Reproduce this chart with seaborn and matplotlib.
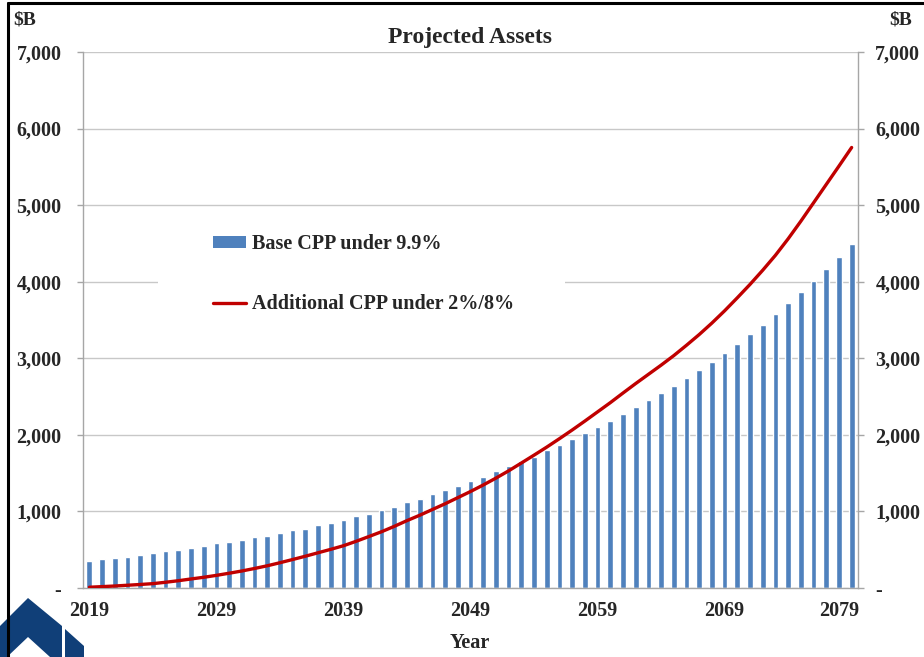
import numpy as np
import pandas as pd
import matplotlib
matplotlib.use('Agg')
import matplotlib.pyplot as plt
import matplotlib.transforms as mtransforms
import seaborn as sns
from matplotlib.patches import Patch, Rectangle, Polygon
from matplotlib.lines import Line2D

# data ($B)
years = list(range(2019, 2080))
base_cpp = [352, 374, 394, 408, 431, 453, 478, 500, 523, 549,
            582, 604, 628, 660, 684, 720, 752, 776, 820, 855,
            888, 938, 970, 1018, 1062, 1122, 1167, 1223, 1279, 1336,
            1397, 1450, 1523, 1589, 1656, 1716, 1797, 1864, 1945, 2027,
            2106, 2185, 2272, 2359, 2450, 2546, 2634, 2738, 2842, 2954,
            3068, 3185, 3312, 3437, 3577, 3716, 3864, 4012, 4161, 4321,
            4495]
additional_cpp = [10, 18, 26, 36, 46, 57, 75, 95, 118, 140,
                  165, 193, 222, 255, 290, 330, 372, 415, 460, 505,
                  552, 610, 672, 735, 805, 880, 950, 1025, 1100, 1180,
                  1260, 1345, 1435, 1530, 1632, 1735, 1840, 1950, 2063, 2180,
                  2300, 2420, 2546, 2670, 2790, 2910, 3035, 3170, 3310, 3460,
                  3620, 3790, 3965, 4150, 4345, 4560, 4790, 5030, 5270, 5510,
                  5753]

y_ticks = [0, 1000, 2000, 3000, 4000, 5000, 6000, 7000]
y_tick_labels = ['-', '1,000', '2,000', '3,000', '4,000', '5,000', '6,000', '7,000']
x_label_years = [2019, 2029, 2039, 2049, 2059, 2069, 2079]
series_names = ['Base CPP under 9.9%', 'Additional CPP under 2%/8%']

BAR_COLOR = '#4F81BD'
LINE_COLOR = '#C00000'
GRID_COLOR = '#C8C8C8'
AXIS_COLOR = '#A6A6A6'

W, H = 924, 657


def fx(px):
    return px / W


def fy(py):
    return 1 - py / H


sns.set_style('white')
plt.rcParams['font.family'] = ['Liberation Serif', 'DejaVu Serif']
plt.rcParams['font.weight'] = 'bold'

df = pd.DataFrame({'year': years, 'base': base_cpp, 'additional': additional_cpp})

fig = plt.figure(figsize=(W / 100, H / 100), dpi=100)
ax = fig.add_axes([fx(83), fy(588), fx(858) - fx(83), fy(52) - fy(588)])

sns.barplot(data=df, x='year', y='base', native_scale=True, width=0.45,
            color=BAR_COLOR, saturation=1, errorbar=None, ax=ax, zorder=2)
sns.lineplot(data=df, x='year', y='additional', color=LINE_COLOR, lw=2.4,
             ax=ax, zorder=3)

ax.set_xlim(2018.5, 2079.5)
ax.set_ylim(0, 7000)
ax.set_axisbelow(True)
ax.xaxis.grid(False)
ax.yaxis.grid(True, color=GRID_COLOR, lw=1)

# white box behind the legend hides the gridline
ax.add_patch(Rectangle((fx(158), fy(335)), fx(565) - fx(158), fy(215) - fy(335),
                       transform=fig.transFigure, facecolor='white',
                       edgecolor='none', zorder=1))

ax.set_yticks(y_ticks)
ax.set_yticklabels(y_tick_labels)
ax.set_xticks(x_label_years)
ax.set_xticklabels([str(y) for y in x_label_years])
ax.set_xticks(np.arange(2018.5, 2079, 5), minor=True)
ax.tick_params(axis='x', which='major', length=0, pad=9, labelsize=14.5)
ax.tick_params(axis='x', which='minor', length=5, width=1, color=AXIS_COLOR,
               direction='out')
ax.tick_params(axis='y', length=4.5, width=1, color=AXIS_COLOR, pad=11,
               labelsize=14.5, direction='out')
ax.set_xlabel('')
ax.set_ylabel('')

# last year label sits a little left, as in the original
last = ax.get_xticklabels()[-1]
last.set_transform(last.get_transform() +
                   mtransforms.ScaledTranslation(-12 / 100, 0, fig.dpi_scale_trans))

for side in ['top', 'right']:
    ax.spines[side].set_visible(False)
for side in ['left', 'bottom']:
    ax.spines[side].set_color(AXIS_COLOR)
    ax.spines[side].set_linewidth(1)

ax2 = ax.twinx()
ax2.set_ylim(0, 7000)
ax2.set_yticks(y_ticks)
ax2.set_yticklabels(y_tick_labels)
ax2.tick_params(axis='y', length=4.5, width=1, color=AXIS_COLOR, pad=8,
                labelsize=14.5, direction='out')
for side in ['top', 'left', 'bottom']:
    ax2.spines[side].set_visible(False)
ax2.spines['right'].set_color(AXIS_COLOR)
ax2.spines['right'].set_linewidth(1)

handles = [Patch(facecolor=BAR_COLOR, edgecolor='none'),
           Line2D([0], [0], color=LINE_COLOR, lw=2.4)]
ax2.legend(handles, series_names, loc='upper left',
           bbox_to_anchor=(fx(213), fy(234)), bbox_transform=fig.transFigure,
           frameon=False, borderpad=0, borderaxespad=0,
           labelspacing=2.0, handlelength=1.65, handleheight=0.55,
           handletextpad=0.3, prop={'weight': 'bold', 'size': 14.5})

fig.text(fx(470), fy(38), 'Projected Assets', ha='center', va='center',
         fontsize=17, fontweight='bold')
fig.text(fx(13), fy(20), '$B', ha='left', va='center', fontsize=14, fontweight='bold')
fig.text(fx(889), fy(20), '$B', ha='left', va='center', fontsize=14, fontweight='bold')
fig.text(fx(470), fy(643), 'Year', ha='center', va='center', fontsize=14.5,
         fontweight='bold')

# slide frame
fig.add_artist(Line2D([fx(8), fx(8)], [fy(3), 0], color='black', lw=2.2))
fig.add_artist(Line2D([fx(8), 1], [fy(3), fy(3)], color='black', lw=2.2))

# logo in the corner
logo = '#103F78'
fig.add_artist(Polygon([(fx(0), fy(626)), (fx(28), fy(598)), (fx(62), fy(626)),
                        (fx(62), 0), (fx(50), 0), (fx(28), fy(637)),
                        (fx(7), 0), (fx(0), 0)],
                       closed=True, transform=fig.transFigure,
                       facecolor=logo, edgecolor='none'))
fig.add_artist(Polygon([(fx(65), fy(629)), (fx(84), fy(646)), (fx(84), 0),
                        (fx(65), 0)],
                       closed=True, transform=fig.transFigure,
                       facecolor=logo, edgecolor='none'))

fig.savefig('out.png', dpi=100)
